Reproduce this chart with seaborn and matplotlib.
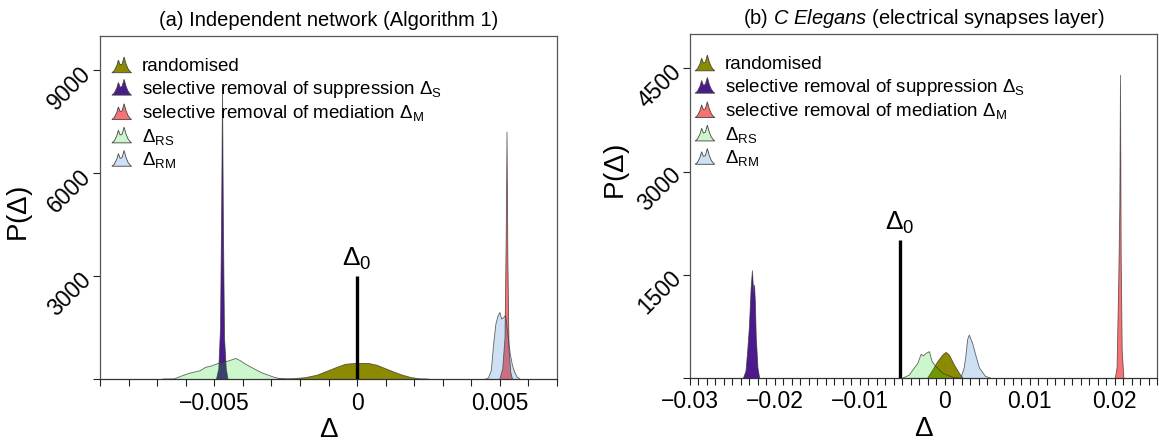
import numpy as np
import matplotlib
matplotlib.use("Agg")
import matplotlib.pyplot as plt
import seaborn as sns
from matplotlib.patches import Polygon, Patch
from matplotlib.legend_handler import HandlerPatch
from matplotlib.ticker import MultipleLocator

# ---- panel (a): independent network, densities ----
a_rand_x = [-0.0028, -0.0022, -0.0018, -0.0014, -0.0010, -0.0007, -0.0004, -0.0001,
            0.0002, 0.0004, 0.0007, 0.0010, 0.0013, 0.0016, 0.0019, 0.0022, 0.0025]
a_rand_y = [0, 10, 40, 110, 240, 340, 430, 450, 455, 455, 400, 300, 200, 110, 40, 5, 0]

a_s_x = [-0.00492, -0.00484, -0.00478, -0.00474, -0.00471, -0.00468, -0.00464, -0.00458, -0.00452]
a_s_y = [0, 300, 1500, 5000, 8500, 4500, 1200, 300, 0]

a_m_x = [0.0050, 0.00510, 0.00518, 0.00522, 0.00525, 0.00528, 0.00532, 0.00538, 0.00544]
a_m_y = [0, 300, 1200, 4000, 7200, 3500, 900, 200, 0]

a_rs_x = [-0.0068, -0.0064, -0.0062, -0.0059, -0.0057, -0.0055, -0.0053, -0.0051, -0.0048,
          -0.0045, -0.00425, -0.0041, -0.0039, -0.0037, -0.0035, -0.0033, -0.0031, -0.0029,
          -0.0027, -0.0025]
a_rs_y = [0, 5, 70, 160, 200, 240, 340, 380, 470, 525, 600, 540, 430, 340, 250, 170, 110, 50, 10, 0]

a_rm_x = [0.0045, 0.0046, 0.0047, 0.00478, 0.00486, 0.00494, 0.0050, 0.00506, 0.00512,
          0.0052, 0.00528, 0.00536, 0.00544, 0.00552, 0.0056, 0.0057]
a_rm_y = [0, 30, 250, 1000, 1600, 1850, 1940, 1750, 1780, 1850, 1300, 750, 400, 200, 60, 0]

a_delta0 = 0.0
a_delta0_top = 3000

# ---- panel (b): C elegans electrical synapses layer ----
b_rand_x = [-0.0020, -0.0014, -0.00082, -0.00023, 0.00016, 0.00055, 0.00114, 0.00173, 0.00212]
b_rand_y = [0, 116, 237, 334, 373, 334, 189, 68, 0]

b_s_x = [-0.0237, -0.0234, -0.0232, -0.0230, -0.0228, -0.02265, -0.0225, -0.0224, -0.0223,
         -0.0222, -0.0220, -0.0218]
b_s_y = [0, 100, 400, 750, 1300, 1560, 1250, 1350, 1100, 600, 150, 0]

b_m_x = [0.0201, 0.0203, 0.0205, 0.02062, 0.0207, 0.02078, 0.0209, 0.0211]
b_m_y = [0, 150, 1450, 2500, 4400, 1800, 400, 0]

b_rs_x = [-0.00493, -0.00415, -0.00376, -0.00317, -0.00278, -0.0025, -0.00219, -0.0018,
          -0.00148, -0.00101, -0.00023, 0.00094, 0.0017]
b_rs_y = [0, 44, 116, 213, 344, 320, 359, 383, 237, 165, 68, 10, 0]

b_rm_x = [0.0019, 0.0023, 0.0025, 0.0027, 0.0029, 0.0031, 0.0033, 0.0037, 0.0041, 0.0048, 0.0054]
b_rm_y = [0, 150, 330, 560, 625, 560, 500, 312, 144, 24, 0]

b_delta0 = -0.00526
b_delta0_top = 2000

labels = ["randomised",
          r"selective removal of suppression $\Delta_\mathrm{S}$",
          r"selective removal of mediation $\Delta_\mathrm{M}$",
          r"$\Delta_\mathrm{RS}$",
          r"$\Delta_\mathrm{RM}$"]
fills = ["#8c8a00", "#4b1a8c", (0.97, 0.40, 0.40, 0.92),
         (0.0, 0.85, 0.0, 0.2), (0.05, 0.40, 0.78, 0.2)]


class HandlerPeak(HandlerPatch):
    """Small two-humped mountain glyph, like R's density legend icons."""
    def create_artists(self, legend, orig_handle, xdescent, ydescent,
                       width, height, fontsize, trans):
        ux = np.array([0.0, 0.12, 0.25, 0.33, 0.42, 0.52, 0.62, 0.72, 0.82, 0.92, 1.0])
        uy = np.array([0.0, 0.12, 0.45, 0.8, 0.5, 0.55, 1.0, 0.55, 0.25, 0.08, 0.0])
        h = height * 1.2
        pts = np.column_stack([ux * width - xdescent, uy * h - ydescent - 0.1 * height])
        p = Polygon(pts, closed=True)
        self.update_prop(p, orig_handle, legend)
        p.set_transform(trans)
        return [p]


sns.set_theme(style="ticks")
plt.rcParams['font.family'] = ['Liberation Sans', 'DejaVu Sans']
plt.rcParams['mathtext.fontset'] = 'custom'
plt.rcParams['mathtext.rm'] = 'Liberation Sans'
plt.rcParams['mathtext.it'] = 'Liberation Sans:italic'
plt.rcParams['mathtext.bf'] = 'Liberation Sans:bold'
for key in ['text.color', 'axes.labelcolor', 'xtick.color', 'ytick.color']:
    plt.rcParams[key] = 'black'

fig = plt.figure(figsize=(11.59, 4.41), dpi=100)
ax_a = fig.add_axes([100 / 1159, 62 / 441, 457 / 1159, 343 / 441])
ax_b = fig.add_axes([690 / 1159, 63 / 441, 467 / 1159, 344 / 441])


def draw_panel(ax, curves, d0, d0_top, xlim, ylim, xticks, xticklabels, yticks, title):
    for i, ((x, y), face) in enumerate(zip(curves, fills)):
        z = 2 + i * 0.1
        ax.fill_between(x, y, 0, facecolor=face, edgecolor='none', zorder=z)
        sns.lineplot(x=x, y=y, ax=ax, color='#333333', lw=0.6, alpha=0.75,
                     sort=False, estimator=None, zorder=z + 0.05)
    ax.vlines(d0, 0, d0_top, color='black', lw=2.4, zorder=4)
    ax.text(d0, d0_top + ylim[1] * 0.012, r"$\Delta_0$", ha='center', va='bottom',
            fontsize=19)

    ax.set_xlim(*xlim)
    ax.set_ylim(*ylim)
    ax.set_xticks(xticks, xticklabels)
    ax.xaxis.set_minor_locator(MultipleLocator(0.001))
    ax.set_yticks(yticks, [""] + [str(v) for v in yticks[1:]])
    ax.tick_params(which='both', direction='out', length=5, width=0.8, color='#222222',
                   labelsize=16.5, pad=4)
    for lab in ax.get_yticklabels():
        lab.set_rotation(45)
        lab.set_ha('right')
        lab.set_va('center')
        lab.set_rotation_mode('anchor')
    for s in ax.spines.values():
        s.set_visible(True)
        s.set_color('#555555')
        s.set_linewidth(0.9)
    ax.spines['bottom'].set_color('#333333')

    ax.set_title(title, fontsize=14.5, pad=7)
    ax.set_xlabel(r"$\Delta$", fontsize=20, labelpad=2)
    ax.set_ylabel(r"P($\Delta$)", fontsize=20)

    handles = [Patch(facecolor=f, edgecolor='#444444', lw=0.6) for f in fills]
    return ax.legend(handles, labels, handler_map={Patch: HandlerPeak()}, loc='upper left',
                     frameon=False, fontsize=13.5, labelspacing=0.18, handlelength=1.05,
                     handletextpad=0.55, borderaxespad=0, borderpad=0)


leg_a = draw_panel(ax_a,
                   [(a_rand_x, a_rand_y), (a_s_x, a_s_y), (a_m_x, a_m_y),
                    (a_rs_x, a_rs_y), (a_rm_x, a_rm_y)],
                   a_delta0, a_delta0_top, (-0.009, 0.007), (0, 10000),
                   [-0.005, 0, 0.005], ["\u22120.005", "0", "0.005"],
                   [0, 3000, 6000, 9000], "(a) Independent network (Algorithm 1)")
leg_a.set_bbox_to_anchor((0.026, 0.935), transform=ax_a.transAxes)

leg_b = draw_panel(ax_b,
                   [(b_rand_x, b_rand_y), (b_s_x, b_s_y), (b_m_x, b_m_y),
                    (b_rs_x, b_rs_y), (b_rm_x, b_rm_y)],
                   b_delta0, b_delta0_top, (-0.03, 0.025), (0, 5000),
                   [-0.03, -0.02, -0.01, 0, 0.01, 0.02],
                   ["\u22120.03", "\u22120.02", "\u22120.01", "0", "0.01", "0.02"],
                   [0, 1500, 3000, 4500], r"(b) $\mathit{C\ Elegans}$ (electrical synapses layer)")
leg_b.set_bbox_to_anchor((0.011, 0.935), transform=ax_b.transAxes)

ax_a.yaxis.set_label_coords(-0.142, 0.48)
ax_b.yaxis.set_label_coords(-0.124, 0.6)

fig.savefig("out.png", dpi=100)
